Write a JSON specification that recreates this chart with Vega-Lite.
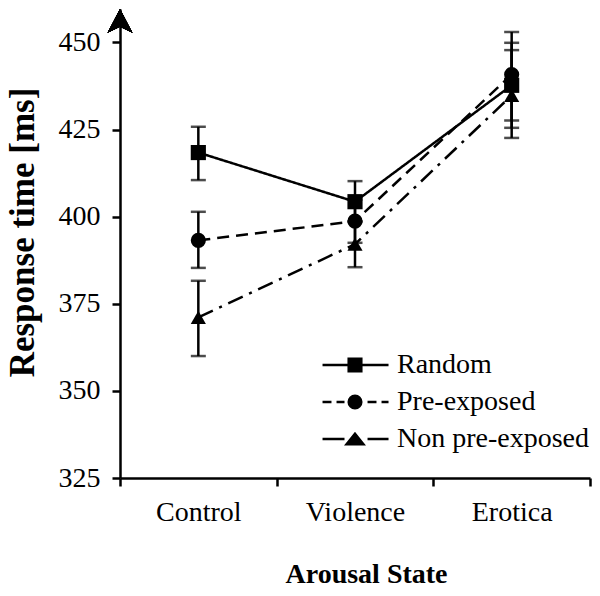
{
  "$schema": "https://vega.github.io/schema/vega-lite/v6.json",
  "description": "Response time by arousal state and presentation condition",
  "autosize": "none",
  "width": 470,
  "height": 469,
  "padding": {"left": 120, "top": 9, "right": 10, "bottom": 118},
  "config": {
    "view": {"stroke": null}
  },
  "data": {
    "values": [
      {"state": "Control", "group": "Random", "mean": 418.4, "lo": 410.5, "hi": 425.8},
      {"state": "Control", "group": "Pre-exposed", "mean": 393.2, "lo": 385.3, "hi": 401.4},
      {"state": "Control", "group": "Non pre-exposed", "mean": 371.1, "lo": 360.0, "hi": 381.6},
      {"state": "Violence", "group": "Random", "mean": 404.3, "lo": 398.5, "hi": 410.2},
      {"state": "Violence", "group": "Pre-exposed", "mean": 398.7, "lo": 392.5, "hi": 404.9},
      {"state": "Violence", "group": "Non pre-exposed", "mean": 392.1, "lo": 385.5, "hi": 398.7},
      {"state": "Erotica", "group": "Random", "mean": 437.7, "lo": 425.5, "hi": 449.9},
      {"state": "Erotica", "group": "Pre-exposed", "mean": 440.8, "lo": 427.6, "hi": 453.0},
      {"state": "Erotica", "group": "Non pre-exposed", "mean": 434.8, "lo": 422.6, "hi": 447.8}
    ]
  },
  "encoding": {
    "x": {
      "field": "state",
      "type": "nominal",
      "sort": ["Control", "Violence", "Erotica"],
      "scale": {"type": "band", "paddingInner": 0, "paddingOuter": 0},
      "axis": {
        "title": "Arousal State",
        "titleFont": "Times New Roman",
        "titleFontSize": 28,
        "titleFontWeight": "bold",
        "titleColor": "black",
        "titlePadding": 34,
        "titleX": 246,
        "labelFont": "Times New Roman",
        "labelFontSize": 28,
        "labelColor": "black",
        "labelAngle": 0,
        "labelPadding": 12,
        "domainColor": "black",
        "domainWidth": 2.5,
        "tickColor": "black",
        "tickWidth": 2.5,
        "tickSize": 8,
        "tickBand": "extent",
        "grid": false
      }
    }
  },
  "layer": [
    {
      "mark": {"type": "rule", "color": "black", "strokeWidth": 2.5},
      "encoding": {
        "y": {
          "field": "lo",
          "type": "quantitative",
          "scale": {"domain": [325, 459.6], "nice": false, "zero": false},
          "axis": {
            "title": "Response time [ms]",
            "titleFont": "Times New Roman",
            "titleFontSize": 35,
            "titleFontWeight": "bold",
            "titleColor": "black",
            "titlePadding": 18,
            "titleY": 223,
            "values": [325, 350, 375, 400, 425, 450],
            "labelFont": "Times New Roman",
            "labelFontSize": 28,
            "labelColor": "black",
            "labelPadding": 12,
            "domainColor": "black",
            "domainWidth": 2.5,
            "tickColor": "black",
            "tickWidth": 2.5,
            "tickSize": 8,
            "grid": false
          }
        },
        "y2": {"field": "hi"}
      }
    },
    {
      "mark": {"type": "tick", "color": "black", "size": 15, "thickness": 2.5},
      "encoding": {"y": {"field": "lo", "type": "quantitative"}}
    },
    {
      "mark": {"type": "tick", "color": "black", "size": 15, "thickness": 2.5},
      "encoding": {"y": {"field": "hi", "type": "quantitative"}}
    },
    {
      "mark": {"type": "line", "color": "black", "strokeWidth": 2.5},
      "encoding": {
        "y": {"field": "mean", "type": "quantitative"},
        "detail": {"field": "group"},
        "strokeDash": {
          "field": "group",
          "type": "nominal",
          "scale": {
            "domain": ["Random", "Pre-exposed", "Non pre-exposed"],
            "range": [[1, 0], [12, 7], [16, 7, 3, 7]]
          },
          "legend": null
        }
      }
    },
    {
      "mark": {"type": "point", "filled": true, "color": "black", "size": 230, "opacity": 1},
      "encoding": {
        "y": {"field": "mean", "type": "quantitative"},
        "shape": {
          "field": "group",
          "type": "nominal",
          "scale": {
            "domain": ["Random", "Pre-exposed", "Non pre-exposed"],
            "range": ["square", "circle", "triangle-up"]
          },
          "legend": null
        }
      }
    },
    {
      "mark": {"type": "point", "filled": false, "color": "black", "size": 196, "strokeWidth": 2.5, "opacity": 0},
      "encoding": {
        "y": {"field": "mean", "type": "quantitative"},
        "shape": {
          "field": "group",
          "type": "nominal",
          "scale": {
            "domain": ["Random", "Pre-exposed", "Non pre-exposed"],
            "range": [
              "M-4.64,0H4.79M-0.9,-0.9H0.9V0.9H-0.9ZM-0.9,-0.6H0.9M-0.9,-0.3H0.9M-0.9,0.3H0.9M-0.9,0.6H0.9",
              "M-4.64,0H-3.36M-2.64,0H-1.5M1.79,0H3.07M3.79,0H4.79M-0.9,0A0.9,0.9 0 1,0 0.9,0A0.9,0.9 0 1,0 -0.9,0ZM-0.55,0A0.55,0.55 0 1,0 0.55,0A0.55,0.55 0 1,0 -0.55,0ZM-0.2,0A0.2,0.2 0 1,0 0.2,0A0.2,0.2 0 1,0 -0.2,0Z",
              "M-4.64,0H-1.5M1.79,0H4.79M0,-0.75L1.2,0.75H-1.2ZM-0.24,-0.45H0.24M-0.48,-0.15H0.48M-0.72,0.15H0.72M-0.96,0.45H0.96"
            ]
          },
          "legend": {
            "title": null,
            "orient": "none",
            "legendX": 221,
            "legendY": 342,
            "padding": 0,
            "symbolSize": 196,
            "symbolStrokeWidth": 2.5,
            "symbolStrokeColor": "black",
            "symbolOpacity": 1,
            "labelFont": "Times New Roman",
            "labelFontSize": 28,
            "labelColor": "black",
            "labelOffset": 28,
            "labelLimit": 400,
            "rowPadding": 9
          }
        }
      }
    },
    {
      "mark": {
        "type": "point",
        "filled": true,
        "color": "black",
        "size": 576,
        "opacity": 1,
        "shape": "M0,0L1.04,1.98L0,1.48L-1.04,1.98Z"
      },
      "encoding": {
        "x": {"datum": "Control", "bandPosition": 0},
        "y": {"datum": 459.6}
      }
    }
  ],
  "resolve": {"scale": {"shape": "independent"}}
}
